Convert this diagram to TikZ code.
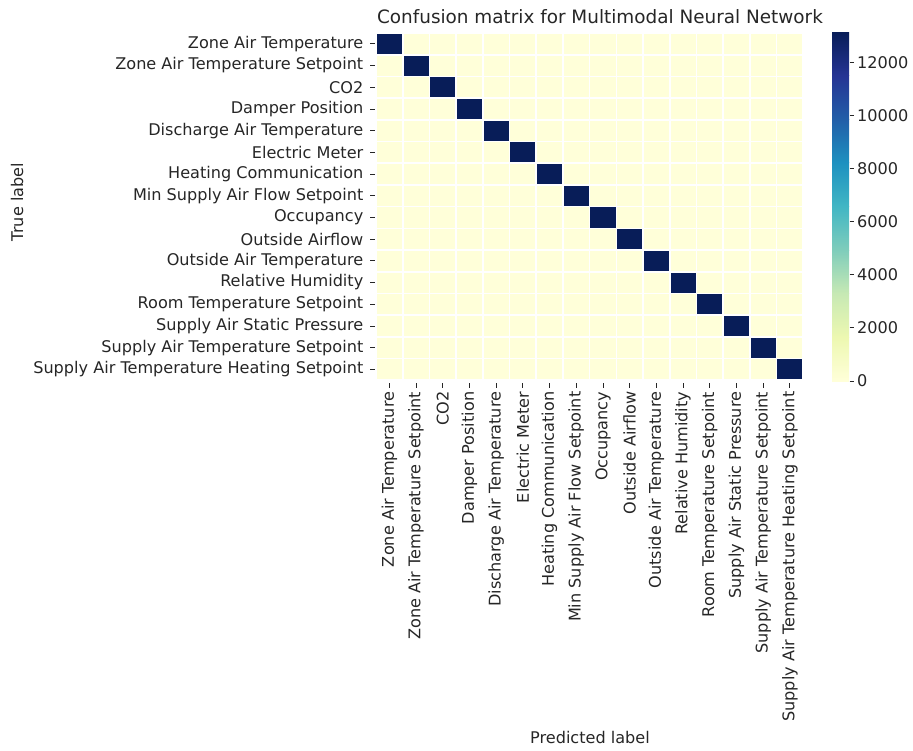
\documentclass[tikz,border=0pt]{standalone}
\usepackage{fontspec}
\setmainfont{DejaVu Sans}
\begin{document}
% YlGnBu colour stops
\definecolor{yg0}{HTML}{FFFFD9}
\definecolor{yg1}{HTML}{EDF8B1}
\definecolor{yg2}{HTML}{C7E9B4}
\definecolor{yg3}{HTML}{7FCDBB}
\definecolor{yg4}{HTML}{41B6C4}
\definecolor{yg5}{HTML}{1D91C0}
\definecolor{yg6}{HTML}{225EA8}
\definecolor{yg7}{HTML}{253494}
\definecolor{yg8}{HTML}{081D58}
\definecolor{txt}{HTML}{262626}
\begin{tikzpicture}[x=1pt,y=-1pt,
  lbl/.style={font=\fontsize{16.1}{19}\selectfont, text=txt, inner sep=0pt},
  tickline/.style={draw=txt, line width=0.9pt},
  cell/.style={draw=white, line width=1.6pt},
  ]
\useasboundingbox (0,0) rectangle (913,750);
\def\xo{376}\def\yo{33}\def\cw{26.7}\def\ch{21.7}
% heatmap cells
\foreach \r in {0,...,15}{
  \foreach \c in {0,...,15}{
    \ifnum\r=\c
      \path[cell, fill=yg8] (\xo+\c*\cw,\yo+\r*\ch) rectangle ++(\cw,\ch);
    \else
      \path[cell, fill=yg0] (\xo+\c*\cw,\yo+\r*\ch) rectangle ++(\cw,\ch);
    \fi
  }
}
% axis tick labels
\foreach \t [count=\i from 0] in {Zone Air Temperature,Zone Air Temperature Setpoint,CO2,Damper Position,Discharge Air Temperature,Electric Meter,Heating Communication,Min Supply Air Flow Setpoint,Occupancy,Outside Airflow,Outside Air Temperature,Relative Humidity,Room Temperature Setpoint,Supply Air Static Pressure,Supply Air Temperature Setpoint,Supply Air Temperature Heating Setpoint}{
  \draw[tickline] (370,\yo+\i*\ch+0.5*\ch) -- (374.5,\yo+\i*\ch+0.5*\ch);
  \node[lbl, anchor=east] (ylab\i) at (363.5,\yo+\i*\ch+0.5*\ch) {\t};
  \draw[tickline] (\xo+\i*\cw+0.5*\cw,383) -- (\xo+\i*\cw+0.5*\cw,387.5);
  \node[lbl, anchor=east, rotate=90] (xlab\i) at (\xo+\i*\cw+0.5*\cw,391.5) {\t};
}
% titles
\node[font=\fontsize{18.4}{22}\selectfont, text=txt, inner sep=0pt] (title) at (600,17) {Confusion matrix for Multimodal Neural Network};
\node[lbl] (xaxis) at (590,737) {Predicted label};
\node[lbl, rotate=90] (yaxis) at (17,202) {True label};
% colour bar
\def\cbt{32}\def\cbb{381}
\foreach \k [evaluate=\k as \kp using int(\k+1)] in {0,...,7}{
  \shade[bottom color=yg\k, top color=yg\kp]
    (832,\cbb-\k*43.625) rectangle (849,\cbb-\k*43.625-43.625);
}
\foreach \v in {0,2000,...,12000}{
  \draw[tickline] (849.5,\cbb-\v*0.02655) -- (854,\cbb-\v*0.02655);
  \node[lbl, anchor=west] (cb\v) at (857,\cbb-\v*0.02655) {\v};
}
\end{tikzpicture}
\end{document}
